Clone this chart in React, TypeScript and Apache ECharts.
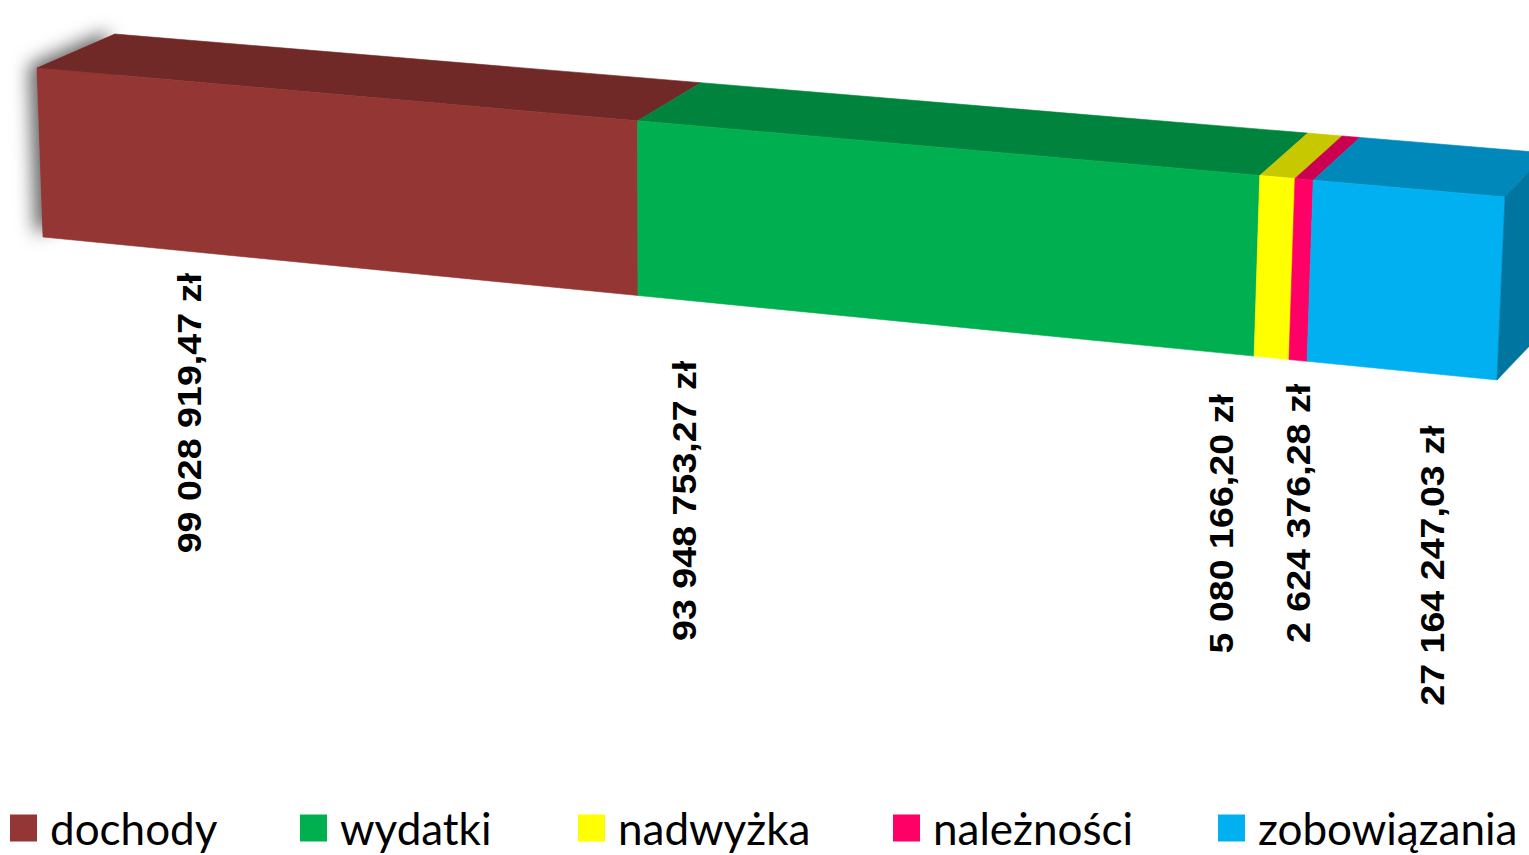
import { useEffect, useRef } from 'react';
import * as echarts from 'echarts';

// ---------- data ----------
const CATEGORIES = ['dochody', 'wydatki', 'nadwyżka', 'należności', 'zobowiązania'];
const VALUES = [99028919.47, 93948753.27, 5080166.2, 2624376.28, 27164247.03];
const CURRENCY = 'zł';

// ---------- styles / layout ----------
const FRONT_COLORS = ['#943634', '#00b050', '#ffff00', '#ff0066', '#00b0f0'];
const TOP_COLORS = ['#712927', '#00843d', '#c8c800', '#cc0052', '#0088bb'];
const SIDE_COLOR = '#0075a0';
// front face corners of the 3D bar (pixels)
const FTL = [37, 68];
const FTR = [1505, 197];
const FBL = [43, 237];
const FBR = [1497, 380];
// depth vector at left end and at right end
const D0 = [78, -34];
const D1 = [42, -44];
const PERSPECTIVE = 1.11;
// label offsets from the bottom-middle of each segment's front face
const LABEL_OFFSETS = [
  [-151, 147],
  [-262, 175],
  [-50, 166],
  [0, 153],
  [30, 195],
];
const LEGEND_LEFT = [10, 300, 578, 893, 1218];

const TOTAL = VALUES.reduce((a, b) => a + b, 0);
const STARTS: number[] = [];
VALUES.reduce((acc, v, i) => {
  STARTS[i] = acc;
  return acc + v;
}, 0);

function formatPL(v: number): string {
  const [int, dec] = v.toFixed(2).split('.');
  const grouped = int.replace(/\B(?=(\d{3})+(?!\d))/g, ' ');
  return `${grouped},${dec} ${CURRENCY}`;
}

const lerp = (a: number[], b: number[], t: number) => [a[0] + (b[0] - a[0]) * t, a[1] + (b[1] - a[1]) * t];
const add = (a: number[], b: number[]) => [a[0] + b[0], a[1] + b[1]];
const warp = (t: number) => t / (t + PERSPECTIVE * (1 - t));

function makeRenderItem(idx: number) {
  return (params: any, api: any) => {
    const s = api.value(0);
    const e = api.value(1);
    const x0 = api.coord([0, 0])[0];
    const xT = api.coord([TOTAL, 0])[0];
    const lin = (v: number) => (api.coord([v, 0])[0] - x0) / (xT - x0);
    const ts = warp(lin(s));
    const te = warp(lin(e));
    const top = (t: number) => lerp(FTL, FTR, t);
    const bot = (t: number) => lerp(FBL, FBR, t);
    const dep = (t: number) => lerp(D0, D1, t);
    const children: any[] = [];
    if (idx === 0) {
      children.push({
        type: 'polygon',
        shape: { points: [add(top(0), dep(0)), top(0), bot(0), add(bot(0), dep(0))] },
        style: {
          fill: FRONT_COLORS[0],
          shadowBlur: 18,
          shadowOffsetX: -8,
          shadowOffsetY: -3,
          shadowColor: 'rgba(0,0,0,0.6)',
        },
      });
    }
    children.push({
      type: 'polygon',
      shape: { points: [top(ts), top(te), add(top(te), dep(te)), add(top(ts), dep(ts))] },
      style: { fill: TOP_COLORS[idx], stroke: TOP_COLORS[idx], lineWidth: 0.6 },
    });
    children.push({
      type: 'polygon',
      shape: { points: [top(ts), top(te), bot(te), bot(ts)] },
      style: { fill: FRONT_COLORS[idx], stroke: FRONT_COLORS[idx], lineWidth: 0.6 },
    });
    if (idx === VALUES.length - 1) {
      children.push({
        type: 'polygon',
        shape: { points: [top(1), add(top(1), dep(1)), add(bot(1), dep(1)), bot(1)] },
        style: { fill: SIDE_COLOR, stroke: SIDE_COLOR, lineWidth: 0.6 },
      });
    }
    const anchor = add(bot((ts + te) / 2), LABEL_OFFSETS[idx]);
    children.push({
      type: 'text',
      x: anchor[0],
      y: anchor[1],
      rotation: Math.PI / 2,
      scaleX: 1.14,
      style: {
        text: formatPL(VALUES[idx]),
        x: 0,
        y: 0,
        align: 'center',
        verticalAlign: 'middle',
        fill: '#000',
        fontFamily: '"Liberation Sans", Arial, sans-serif',
        fontWeight: 'bold',
        fontSize: 33,
      },
    });
    return { type: 'group', children };
  };
}

export default function App() {
  const ref = useRef<HTMLDivElement>(null);
  useEffect(() => {
    const chart = echarts.init(ref.current!, null, { renderer: 'svg' });
    const option: any = {
      animation: false,
      backgroundColor: '#ffffff',
      grid: { left: 37, right: 24, top: 60, bottom: 500 },
      xAxis: { type: 'value', min: 0, max: TOTAL, show: false },
      yAxis: { type: 'value', min: 0, max: 1, show: false },
      legend: CATEGORIES.map((name, i) => ({
        data: [name],
        left: LEGEND_LEFT[i],
        top: 806,
        padding: 0,
        itemWidth: 27,
        itemHeight: 27,
        icon: 'rect',
        selectedMode: false,
        textStyle: {
          fontFamily: 'Lato, "Noto Sans", sans-serif',
          fontSize: 44,
          color: '#000',
          padding: [0, 0, 7, 8],
        },
      })),
      series: CATEGORIES.map((name, i) => ({
        type: 'custom',
        name,
        clip: false,
        itemStyle: { color: FRONT_COLORS[i] },
        encode: { x: [0, 1], y: 2 },
        data: [[STARTS[i], STARTS[i] + VALUES[i], 0]],
        renderItem: makeRenderItem(i),
      })),
    };
    chart.setOption(option);
    return () => chart.dispose();
  }, []);
  return (
    <div
      ref={ref}
      style={{ position: 'fixed', left: 0, top: 0, width: 1529, height: 855, background: '#fff' }}
    />
  );
}
